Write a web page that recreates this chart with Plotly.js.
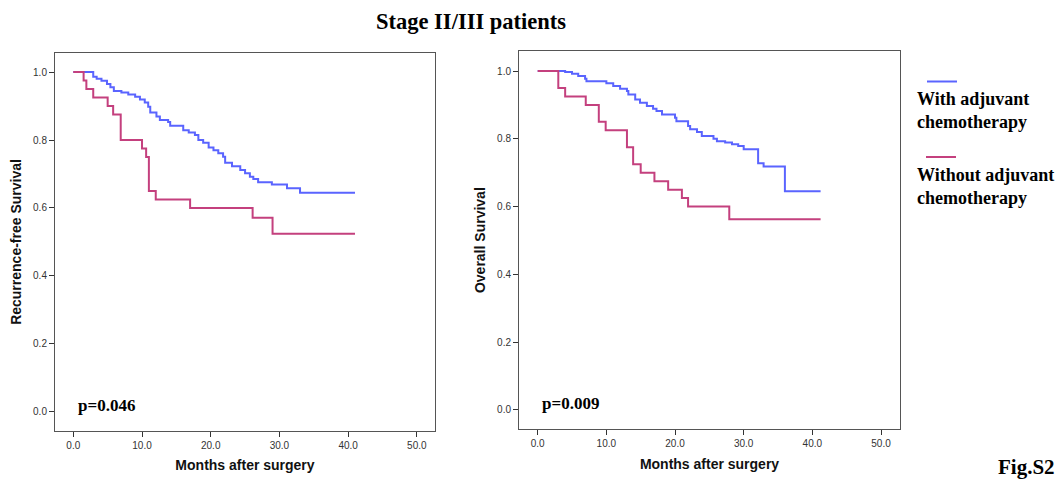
<!DOCTYPE html>
<html>
<head>
<meta charset="utf-8">
<script src="https://cdn.plot.ly/plotly-3.0.1.min.js"></script>
<style>html,body{margin:0;padding:0;background:#fff;}#chart{width:1059px;height:479px;}</style>
</head>
<body>
<div id="chart"></div>
<script>
// ---- Data ----
const seriesNames = ["With adjuvant chemotherapy", "Without adjuvant chemotherapy"];

// Recurrence-free survival, with adjuvant chemotherapy
const rfsWithMonths = [0, 2.9, 3.4, 4.1, 4.9, 5.4, 5.9, 7.0, 8.0, 9.0, 9.7, 10.4, 10.9, 11.2, 12.1, 12.6, 13.8, 14.1, 16.0, 16.8, 17.7, 18.2, 18.9, 19.7, 20.4, 21.1, 21.8, 22.1, 23.1, 24.3, 25.0, 25.7, 26.2, 26.9, 28.9, 31.1, 33.0, 41.0];
const rfsWithSurv   = [1.0, 0.986, 0.980, 0.974, 0.965, 0.955, 0.944, 0.940, 0.934, 0.927, 0.919, 0.910, 0.898, 0.881, 0.869, 0.859, 0.853, 0.842, 0.829, 0.822, 0.815, 0.800, 0.792, 0.778, 0.770, 0.761, 0.751, 0.733, 0.723, 0.712, 0.702, 0.692, 0.685, 0.676, 0.669, 0.658, 0.645, 0.645];

// Recurrence-free survival, without adjuvant chemotherapy
const rfsWithoutMonths = [0, 1.5, 1.9, 2.9, 5.0, 5.8, 6.9, 10.0, 10.6, 11.0, 12.0, 17.0, 26.1, 29.0, 41.0];
const rfsWithoutSurv   = [1.0, 0.975, 0.950, 0.925, 0.900, 0.875, 0.800, 0.775, 0.750, 0.650, 0.625, 0.600, 0.571, 0.524, 0.524];

// Overall survival, with adjuvant chemotherapy
const osWithMonths = [0, 4.0, 5.0, 5.9, 6.9, 7.1, 10.0, 11.0, 12.0, 13.0, 13.2, 14.2, 14.9, 15.9, 16.8, 17.3, 18.1, 20.0, 20.2, 21.9, 22.2, 23.2, 23.9, 25.6, 26.1, 27.3, 28.3, 29.2, 30.0, 32.1, 32.9, 36.0, 41.2];
const osWithSurv   = [1.0, 0.997, 0.992, 0.985, 0.977, 0.970, 0.964, 0.956, 0.948, 0.941, 0.931, 0.916, 0.906, 0.897, 0.889, 0.882, 0.872, 0.862, 0.852, 0.838, 0.828, 0.820, 0.808, 0.800, 0.793, 0.789, 0.784, 0.779, 0.769, 0.728, 0.718, 0.645, 0.645];

// Overall survival, without adjuvant chemotherapy
const osWithoutMonths = [0, 3.0, 4.0, 7.0, 8.9, 9.9, 13.0, 13.9, 15.0, 17.0, 19.0, 21.0, 21.9, 27.9, 41.2];
const osWithoutSurv   = [1.0, 0.950, 0.925, 0.900, 0.850, 0.825, 0.775, 0.725, 0.700, 0.675, 0.650, 0.625, 0.600, 0.5625, 0.5625];

const xTicks = [0, 10, 20, 30, 40, 50];
const yTicks = [0, 0.2, 0.4, 0.6, 0.8, 1.0];
const pValues = ["p=0.046", "p=0.009"];

// ---- Styles ----
const blue = "#5a64ff";
const magenta = "#c4407e";
const sans = "Liberation Sans, Arial, sans-serif";
const serif = "Liberation Serif, Times New Roman, serif";

function kmTrace(x, y, color, xa, ya, name) {
  return {x: x, y: y, type: "scatter", mode: "lines", line: {shape: "hv", color: color, width: 2},
          xaxis: xa, yaxis: ya, name: name, showlegend: false, hoverinfo: "x+y"};
}

const traces = [
  kmTrace(rfsWithMonths, rfsWithSurv, blue, "x", "y", seriesNames[0]),
  kmTrace(rfsWithoutMonths, rfsWithoutSurv, magenta, "x", "y", seriesNames[1]),
  kmTrace(osWithMonths, osWithSurv, blue, "x2", "y2", seriesNames[0]),
  kmTrace(osWithoutMonths, osWithoutSurv, magenta, "x2", "y2", seriesNames[1])
];

function xAxis(domain, range, anchor) {
  return {domain: domain, range: range, anchor: anchor, tickvals: xTicks, tickformat: ".1f",
          ticks: "outside", ticklen: 5, tickcolor: "#333", tickwidth: 1,
          showline: true, linecolor: "#555", linewidth: 1, mirror: true,
          showgrid: false, zeroline: false, tickfont: {family: sans, size: 10, color: "#333"},
          title: {text: "Months after surgery", font: {family: sans, size: 14, color: "#111", weight: "bold"}, standoff: 10}};
}
function yAxis(domain, range, anchor, title) {
  return {domain: domain, range: range, anchor: anchor, tickvals: yTicks, tickformat: ".1f",
          ticks: "outside", ticklen: 5, tickcolor: "#333", tickwidth: 1,
          showline: true, linecolor: "#555", linewidth: 1, mirror: true,
          showgrid: false, zeroline: false, tickfont: {family: sans, size: 10, color: "#333"},
          title: {text: title, font: {family: sans, size: 14, color: "#111", weight: "bold"}, standoff: 8}};
}

const layout = {
  width: 1059, height: 479,
  margin: {l: 0, r: 0, t: 0, b: 0},
  paper_bgcolor: "#fff", plot_bgcolor: "#fff",
  showlegend: false,
  xaxis: xAxis([0.0519, 0.4108], [-2.67, 52.65], "y"),
  yaxis: yAxis([0.1002, 0.8894], [-0.056, 1.056], "x", "Recurrence-free Survival"),
  xaxis2: xAxis([0.4901, 0.8499], [-2.72, 52.77], "y2"),
  yaxis2: yAxis([0.1038, 0.8935], [-0.057, 1.059], "x2", "Overall Survival"),
  shapes: [
    {type: "line", xref: "paper", yref: "paper", x0: 927/1059, x1: 957/1059, y0: 1 - 81.5/479, y1: 1 - 81.5/479, line: {color: blue, width: 2}},
    {type: "line", xref: "paper", yref: "paper", x0: 926/1059, x1: 956/1059, y0: 1 - 157/479, y1: 1 - 157/479, line: {color: magenta, width: 2}}
  ],
  annotations: [
    {text: "<b>Stage II/III patients</b>", xref: "paper", yref: "paper", x: 471/1059, y: 1 - 22/479,
     xanchor: "center", yanchor: "middle", showarrow: false, font: {family: serif, size: 22.5, color: "#000"}},
    {text: "<b>" + pValues[0] + "</b>", xref: "x", yref: "y", x: 0.4, y: 0.02, xanchor: "left", yanchor: "middle",
     showarrow: false, font: {family: serif, size: 17, color: "#000"}},
    {text: "<b>" + pValues[1] + "</b>", xref: "x2", yref: "y2", x: 0.3, y: 0.02, xanchor: "left", yanchor: "middle",
     showarrow: false, font: {family: serif, size: 17, color: "#000"}},
    {text: "<b>With adjuvant<br>chemotherapy</b>", xref: "paper", yref: "paper", x: 915/1059, y: 1 - 110.5/479,
     xanchor: "left", yanchor: "middle", align: "left", showarrow: false, font: {family: serif, size: 18, color: "#000"}},
    {text: "<b>Without adjuvant<br>chemotherapy</b>", xref: "paper", yref: "paper", x: 915/1059, y: 1 - 186.5/479,
     xanchor: "left", yanchor: "middle", align: "left", showarrow: false, font: {family: serif, size: 18, color: "#000"}},
    {text: "<b>Fig.S2</b>", xref: "paper", yref: "paper", x: 1057/1059, y: 1 - 467/479,
     xanchor: "right", yanchor: "middle", showarrow: false, font: {family: serif, size: 21, color: "#000"}}
  ]
};

Plotly.newPlot("chart", traces, layout, {displayModeBar: false, staticPlot: true});
</script>
</body>
</html>
